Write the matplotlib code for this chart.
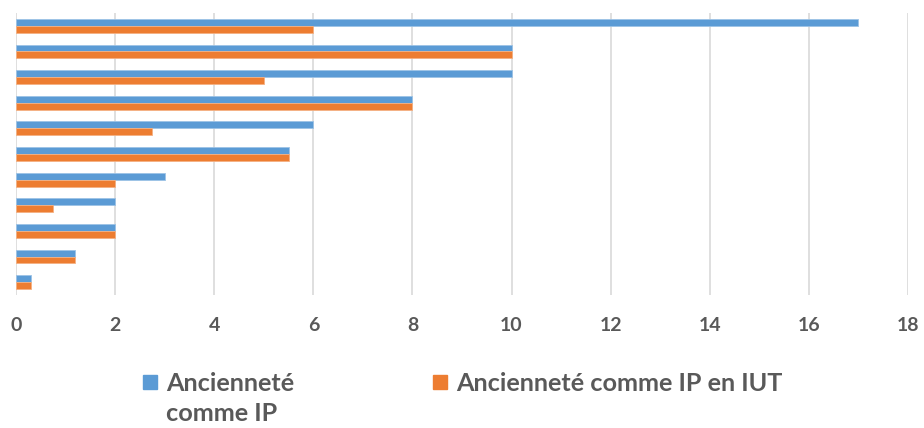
import numpy as np
import matplotlib.pyplot as plt
from matplotlib.patches import Rectangle

# values, top row first
anc_ip = [17, 10, 10, 8, 6, 5.5, 3, 2, 2, 1.2, 0.3]
anc_iut = [6, 10, 5, 8, 2.75, 5.5, 2, 0.75, 2, 1.2, 0.3]
labels = ["Ancienneté\ncomme IP", "Ancienneté comme IP en IUT"]
xticks = list(range(0, 19, 2))

blue = "#5B9BD5"
orange = "#ED7D31"
grey = "#595959"

fig = plt.figure(figsize=(9.24, 4.28), dpi=100)
ax = fig.add_axes([16/924, 1-295/428, 892/924, 282/428])

y = np.arange(len(anc_ip))
h = 0.27
ax.barh(y - h/2, anc_ip, height=h, color=blue, edgecolor="#9DC3E6", linewidth=0.6, zorder=3)
ax.barh(y + h/2, anc_iut, height=h, color=orange, edgecolor="#F4B183", linewidth=0.6, zorder=3)

ax.set_ylim(len(anc_ip) - 0.5, -0.5)
ax.set_xlim(0, 18)
ax.set_xticks(xticks)
ax.set_xticklabels([str(v) for v in xticks], fontfamily="Lato", fontweight="bold",
                   fontsize=14, color=grey)
ax.tick_params(axis="x", length=0, pad=16)
ax.set_yticks([])
ax.grid(axis="x", color="#D9D9D9", linewidth=1.2, zorder=0)
for s in ax.spines.values():
    s.set_visible(False)

# legend drawn by hand to keep Excel's wrapped first entry
fig.patches.append(Rectangle((143/924, 1-389/428), 14/924, 14/428,
                             transform=fig.transFigure, color=blue))
fig.patches.append(Rectangle((433/924, 1-389/428), 14/924, 14/428,
                             transform=fig.transFigure, color=orange))
for i, line in enumerate(labels[0].split("\n")):
    fig.text(166/924, 1-(391 + 30*i)/428, line, fontfamily="Lato", fontweight="bold",
             fontsize=18.2, color=grey, va="baseline")
fig.text(456/924, 1-391/428, labels[1], fontfamily="Lato", fontweight="bold",
         fontsize=18.2, color=grey, va="baseline")

fig.savefig("out.png", dpi=100)
